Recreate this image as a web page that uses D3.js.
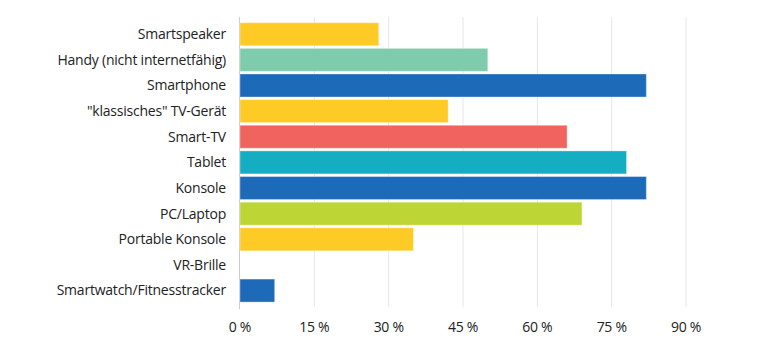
<!DOCTYPE html>
<html><head><meta charset="utf-8">
<script src="https://cdn.jsdelivr.net/npm/d3@7"></script>
<style>body{margin:0;background:#fff}svg text{font-family:"Open Sans",sans-serif;fill:#222}</style>
</head><body><svg id="c" width="768" height="347"></svg>
<script>
const categories = ["Smartspeaker","Handy (nicht internetfähig)","Smartphone","\"klassisches\" TV-Gerät","Smart-TV","Tablet","Konsole","PC/Laptop","Portable Konsole","VR-Brille","Smartwatch/Fitnesstracker"];
const values = [28,50,82,42,66,78,82,69,35,0,7];
const colors = ["#fdca26","#7fcbad","#1d6ab9","#fdca26","#f1635e","#15adc1","#1d6ab9","#bdd635","#fdca26","#1d6ab9","#1d6ab9"];
const ticks = [0,15,30,45,60,75,90];

const svg = d3.select("#c");
const x = d3.scaleLinear().domain([0,90]).range([240,686]);
const y = d3.scaleBand().domain(categories).range([21.4,303.4]).paddingInner(0.1).paddingOuter(0.05);

svg.append("g").selectAll("line").data(ticks.slice(1)).join("line")
  .attr("x1",d=>x(d)).attr("x2",d=>x(d)).attr("y1",17).attr("y2",307)
  .attr("stroke","#e6e6e6").attr("stroke-width",1);
svg.append("line").attr("x1",239.5).attr("x2",239.5).attr("y1",17).attr("y2",309).attr("stroke","#ccc");

const bh = 23;
svg.append("g").selectAll("rect").data(categories).join("rect")
  .attr("x",x(0)).attr("y",(d)=>y(d)+y.bandwidth()/2-bh/2)
  .attr("width",(d,i)=>x(values[i])-x(0)).attr("height",bh)
  .attr("fill",(d,i)=>colors[i]).attr("stroke","rgba(255,255,255,0.35)").attr("stroke-width",1);

svg.append("g").selectAll("text").data(categories).join("text")
  .attr("x",226).attr("y",d=>y(d)+y.bandwidth()/2).attr("dy","0.35em")
  .attr("text-anchor","end").attr("font-size",14).attr("letter-spacing",-0.22).text(d=>d);

svg.append("g").selectAll("text").data(ticks).join("text")
  .attr("x",d=>x(d)).attr("y",327).attr("dy","0.35em")
  .attr("text-anchor","middle").attr("font-size",14).attr("letter-spacing",-0.3).text(d=>d+" %");
</script></body></html>
